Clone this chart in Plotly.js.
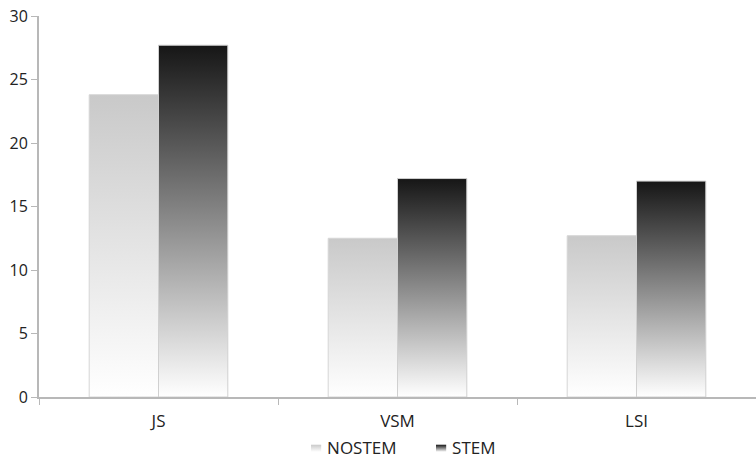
<!DOCTYPE html>
<html>
<head>
<meta charset="utf-8">
<script src="https://cdn.plot.ly/plotly-3.0.1.min.js"></script>
<style>
  html, body { margin: 0; padding: 0; background: #fff; }
  #chart { width: 756px; height: 459px; }
</style>
</head>
<body>
<div id="chart"></div>
<script>
// Retrieval models compared with and without stemming
const categories = ['JS', 'VSM', 'LSI'];
const nostemValues = [23.8, 12.5, 12.7];
const stemValues = [27.7, 17.2, 17.0];
const seriesNames = ['NOSTEM', 'STEM'];
const yTicks = [0, 5, 10, 15, 20, 25, 30];

// Vertical gradient for each series: top colour -> bottom colour
const gradients = [
  { id: 'gradNostem', top: '#c9c9c9', bottom: '#ffffff' },
  { id: 'gradStem', top: '#161616', bottom: '#ffffff' }
];

const fontFamily = '"Open Sans", "DejaVu Sans", sans-serif';

const data = [
  {
    type: 'bar', name: seriesNames[0], x: categories, y: nostemValues,
    marker: { color: '#dddddd', line: { color: '#d6d6d6', width: 1 } },
    hoverinfo: 'x+y+name'
  },
  {
    type: 'bar', name: seriesNames[1], x: categories, y: stemValues,
    marker: { color: '#555555', line: { color: '#d0d0d0', width: 1 } },
    hoverinfo: 'x+y+name'
  }
];

const layout = {
  width: 756, height: 459,
  margin: { l: 39, r: 0, t: 16, b: 62, autoexpand: false },
  paper_bgcolor: '#ffffff', plot_bgcolor: '#ffffff',
  font: { family: fontFamily, size: 16, color: '#222222' },
  barmode: 'group', bargap: 0.42, bargroupgap: 0,
  showlegend: true,
  legend: {
    orientation: 'h', x: 0.346, xanchor: 'left', y: -0.086, yanchor: 'top',
    font: { family: fontFamily, size: 17, color: '#222222' },
    entrywidth: 80, tracegroupgap: 0, borderwidth: 0
  },
  xaxis: {
    type: 'category', range: [-0.5, 2.5],
    showline: true, linecolor: '#b8b8b8', linewidth: 2,
    ticks: 'outside', tickson: 'boundaries', ticklen: 6, tickcolor: '#b8b8b8', tickwidth: 1,
    ticklabelstandoff: 8,
    showgrid: false, zeroline: false,
    tickfont: { family: fontFamily, size: 17, color: '#222222' }
  },
  yaxis: {
    range: [0, 30], tickvals: yTicks, ticktext: yTicks.map(String),
    showline: true, linecolor: '#b8b8b8', linewidth: 2,
    ticks: 'outside', ticklen: 6, tickcolor: '#b8b8b8', tickwidth: 1,
    showgrid: false, zeroline: false,
    tickfont: { family: fontFamily, size: 16, color: '#222222' }
  }
};

function applyGradients(gd) {
  const svg = gd.querySelector('svg.main-svg');
  const ns = 'http://www.w3.org/2000/svg';
  let defs = svg.querySelector('defs.bar-gradients');
  if (!defs) {
    defs = document.createElementNS(ns, 'defs');
    defs.setAttribute('class', 'bar-gradients');
    svg.insertBefore(defs, svg.firstChild);
    gradients.forEach(g => {
      const lg = document.createElementNS(ns, 'linearGradient');
      lg.setAttribute('id', g.id);
      lg.setAttribute('x1', '0'); lg.setAttribute('y1', '0');
      lg.setAttribute('x2', '0'); lg.setAttribute('y2', '1');
      [[0, g.top], [1, g.bottom]].forEach(([off, col]) => {
        const s = document.createElementNS(ns, 'stop');
        s.setAttribute('offset', off);
        s.setAttribute('stop-color', col);
        lg.appendChild(s);
      });
      defs.appendChild(lg);
    });
  }
  gd.querySelectorAll('.barlayer .trace.bars').forEach((tr, i) => {
    tr.querySelectorAll('.point path').forEach(p => {
      p.style.fill = 'url(#' + gradients[i].id + ')';
    });
  });
  // legend swatches: gradient fill, small flat block set just before the label
  gd.querySelectorAll('.legend .traces').forEach((tr, i) => {
    tr.querySelectorAll('.legendpoints path').forEach(p => {
      p.style.fill = 'url(#' + gradients[i].id + ')';
      p.style.stroke = 'none';
      p.setAttribute('transform', 'translate(29,1) scale(0.85,0.6)');
    });
  });
  gd.querySelectorAll('.legend [clip-path]').forEach(el => el.removeAttribute('clip-path'));
}

const gd = document.getElementById('chart');
Plotly.newPlot(gd, data, layout, { displayModeBar: false, staticPlot: true })
  .then(() => applyGradients(gd));
</script>
</body>
</html>
